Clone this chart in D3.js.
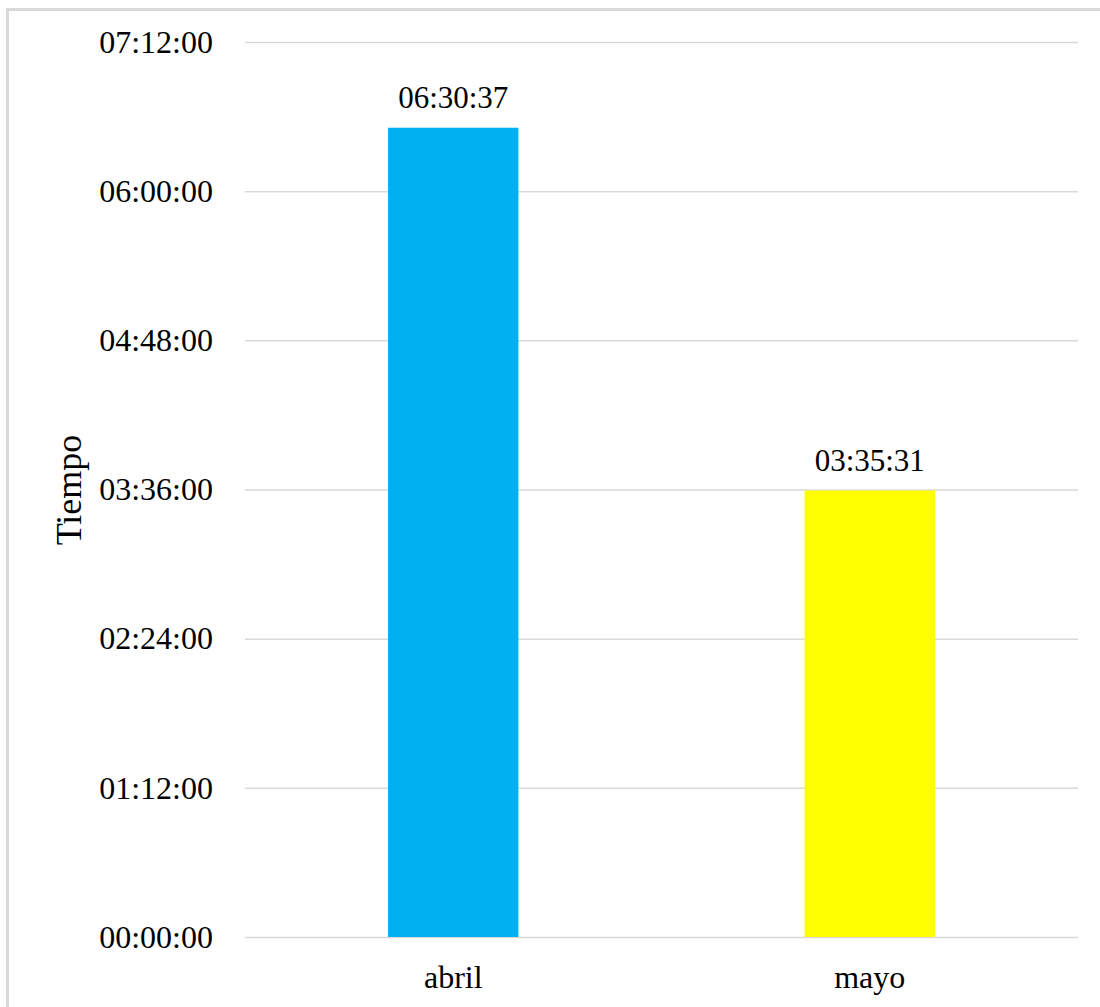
<!DOCTYPE html>
<html>
<head>
<meta charset="utf-8">
<script src="https://cdn.jsdelivr.net/npm/d3@7"></script>
<style>
  html, body { margin: 0; padding: 0; background: #fff; }
  svg { display: block; }
  text { font-family: "Liberation Serif", "Times New Roman", serif; fill: #000; }
</style>
</head>
<body>
<svg id="chart" width="1100" height="1007"></svg>
<script>
// Monthly total time, in seconds
const categories = ["abril", "mayo"];
const durations = [23437, 12931];          // 06:30:37, 03:35:31
const barColors = ["#00b0f0", "#ffff00"];
const tickValues = [0, 4320, 8640, 12960, 17280, 21600, 25920]; // every 01:12:00
const yTitle = "Tiempo";

const svg = d3.select("#chart");
const W = 1100, H = 1007;
const plot = { left: 245, right: 1078, top: 42, bottom: 937 };

const fmt = s => {
  const h = Math.floor(s / 3600), m = Math.floor((s % 3600) / 60), sec = s % 60;
  return [h, m, sec].map(v => String(v).padStart(2, "0")).join(":");
};

// Chart frame
svg.append("rect")
  .attr("x", 7.5).attr("y", 9.5)
  .attr("width", W + 10).attr("height", H + 10)
  .attr("fill", "#fff").attr("stroke", "#d9d9d9").attr("stroke-width", 3);

const x = d3.scaleBand()
  .domain(categories)
  .range([plot.left, plot.right])
  .paddingInner(0.687)
  .paddingOuter(0.3435);

const y = d3.scaleLinear()
  .domain([0, 25920])
  .range([plot.bottom, plot.top]);

// Gridlines + y tick labels
const yAxis = d3.axisLeft(y)
  .tickValues(tickValues)
  .tickFormat(fmt)
  .tickSize(-(plot.right - plot.left))
  .tickPadding(32);

const gy = svg.append("g")
  .attr("transform", `translate(${plot.left},0)`)
  .call(yAxis);
gy.select(".domain").remove();
gy.selectAll(".tick line").attr("stroke", "#d9d9d9").attr("stroke-width", 1.5);
gy.selectAll(".tick text")
  .attr("font-size", 32)
  .attr("fill", "#000")
  .style("font-family", "'Liberation Serif', 'Times New Roman', serif");

// Bars
svg.append("g").selectAll("rect")
  .data(categories)
  .join("rect")
  .attr("x", d => x(d))
  .attr("width", x.bandwidth())
  .attr("y", (d, i) => y(durations[i]))
  .attr("height", (d, i) => y(0) - y(durations[i]))
  .attr("fill", (d, i) => barColors[i]);

// Value labels
svg.append("g").selectAll("text")
  .data(categories)
  .join("text")
  .attr("x", d => x(d) + x.bandwidth() / 2)
  .attr("y", (d, i) => y(durations[i]) - 20)
  .attr("text-anchor", "middle")
  .attr("font-size", 31)
  .text((d, i) => fmt(durations[i]));

// Category axis labels
const xAxis = d3.axisBottom(x).tickSize(0).tickPadding(28);
const gx = svg.append("g")
  .attr("transform", `translate(0,${plot.bottom})`)
  .call(xAxis);
gx.select(".domain").remove();
gx.selectAll(".tick text")
  .attr("font-size", 32)
  .attr("fill", "#000")
  .style("font-family", "'Liberation Serif', 'Times New Roman', serif");

// Y-axis title
svg.append("text")
  .attr("transform", `translate(81,490) rotate(-90)`)
  .attr("text-anchor", "middle")
  .attr("font-size", 36)
  .text(yTitle);
</script>
</body>
</html>
